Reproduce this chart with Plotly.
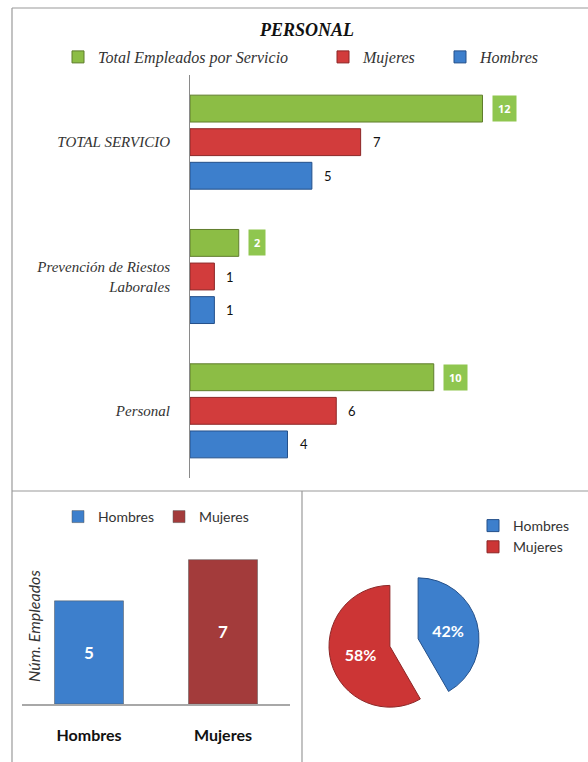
import plotly.graph_objects as go

W, H = 588, 762

# ---------------- data ----------------
categories = ["TOTAL SERVICIO", "Prevención de Riestos<br>Laborales", "Personal"]
total_empleados = [12, 2, 10]
mujeres = [7, 1, 6]
hombres = [5, 1, 4]

genero = ["Hombres", "Mujeres"]
genero_valores = [5, 7]


def fx(px):
    return px / W


def fy(py):
    return 1 - py / H


SERIF = "Liberation Serif"
SANS = "Lato"

GREEN, GREEN_D, GREEN_BOX = "#8cbd45", "#5f7d2c", "#8fc64f"
RED, RED_D = "#d23c3c", "#8c2626"
BLUE, BLUE_D = "#3d7fcc", "#24508a"
DRED = "#a33b3b"

TOP_X0, TOP_X1 = 190, 580
TOP_Y0, TOP_Y1 = 75, 478
BAR_GAP, GROUP_GAP = 0.25, 0.2

series = [
    ("Total Empleados por Servicio", total_empleados, GREEN, GREEN_D, "legend", 78),
    ("Mujeres", mujeres, RED, RED_D, "legend4", 343),
    ("Hombres", hombres, BLUE, BLUE_D, "legend5", 460),
]

fig = go.Figure()
annotations = []
slot_px = (TOP_Y1 - TOP_Y0) / len(categories) * (1 - BAR_GAP) / len(series)

for i, (name, vals, color, line, leg, _) in enumerate(series):
    fig.add_trace(go.Bar(
        y=categories, x=vals, orientation="h", name=name,
        marker=dict(color=color, line=dict(color=line, width=1)),
        xaxis="x", yaxis="y", legend=leg, hoverinfo="skip",
    ))
    yshift = (1 - i) * slot_px
    for cat, v in zip(categories, vals):
        if i == 0:
            annotations.append(dict(
                x=v, y=cat, xref="x", yref="y", text=f"<b>{v}</b>",
                showarrow=False, xanchor="left", xshift=9, yshift=yshift,
                bgcolor=GREEN_BOX, borderpad=5,
                font=dict(family="Open Sans", size=11, color="white"),
            ))
        else:
            annotations.append(dict(
                x=v, y=cat, xref="x", yref="y", text=str(v),
                showarrow=False, xanchor="left", xshift=10, yshift=yshift,
                font=dict(family=SANS, size=13, color="#111"),
            ))

# bottom-left bar chart
for g, v, color in zip(genero, genero_valores, [BLUE, DRED]):
    fig.add_trace(go.Bar(
        x=[g], y=[v], name=g, xaxis="x2", yaxis="y2", legend="legend2",
        marker=dict(color=color, line=dict(color="#555", width=0.5)),
        text=[str(v)], textposition="inside", insidetextanchor="middle",
        textfont=dict(family=SANS, size=17, color="white", weight="bold"),
        offsetgroup="g", width=0.515, hoverinfo="skip",
    ))

# pie
fig.add_trace(go.Pie(
    labels=genero, values=genero_valores, sort=False, direction="clockwise",
    rotation=0, pull=[0.24, 0.24],
    domain=dict(x=[fx(328.5), fx(479.5)], y=[fy(718), fy(567)]),
    marker=dict(colors=[BLUE, "#cc3535"], line=dict(color=[BLUE_D, RED_D], width=1)),
    texttemplate="%{percent:.0%}", textposition="inside",
    insidetextorientation="horizontal",
    insidetextfont=dict(family=SANS, size=16, color="white", weight="bold"),
    legend="legend3", hoverinfo="skip",
))

annotations.append(dict(
    x=fx(33), y=fy(626), xref="paper", yref="paper", text="Núm. Empleados",
    textangle=-90, showarrow=False, xanchor="center", yanchor="middle",
    font=dict(family=SANS, size=16, color="#333", style="italic"),
))

line_col = "#9a9a9a"
shapes = [
    dict(type="line", xref="paper", yref="paper", x0=fx(12), x1=1, y0=fy(8), y1=fy(8),
         line=dict(color=line_col, width=1.2)),
    dict(type="line", xref="paper", yref="paper", x0=fx(12), x1=fx(12), y0=fy(8), y1=0,
         line=dict(color=line_col, width=1.2)),
    dict(type="line", xref="paper", yref="paper", x0=fx(12), x1=1, y0=fy(491), y1=fy(491),
         line=dict(color=line_col, width=1.2)),
    dict(type="line", xref="paper", yref="paper", x0=fx(302), x1=fx(302), y0=fy(491), y1=0,
         line=dict(color=line_col, width=1.2)),
]

legend_font = dict(family=SERIF, size=16, color="#333", style="italic")
leg_common = dict(xanchor="left", yanchor="middle", bgcolor="rgba(0,0,0,0)",
                  orientation="h", font=legend_font, itemclick=False)

layout_legends = {}
for name, vals, color, line, leg, sx in series:
    layout_legends[leg] = dict(leg_common, x=fx(sx - 20), y=fy(57))

fig.update_layout(
    width=W, height=H, margin=dict(l=0, r=0, t=0, b=0),
    paper_bgcolor="white", plot_bgcolor="white",
    barmode="group", bargap=BAR_GAP, bargroupgap=GROUP_GAP,
    showlegend=True,
    title=dict(text="<b><i>PERSONAL</i></b>", x=fx(307), xanchor="center",
               y=fy(30), yanchor="middle", xref="paper", yref="paper",
               font=dict(family=SERIF, size=18, color="#111")),
    xaxis=dict(domain=[fx(TOP_X0), fx(TOP_X1)], range=[0, 16], visible=False,
               anchor="y"),
    yaxis=dict(domain=[fy(TOP_Y1), fy(TOP_Y0)], anchor="x", autorange="reversed",
               categoryorder="array", categoryarray=categories,
               showline=True, linecolor="#8a8a8a", linewidth=1, showgrid=False,
               ticks="outside", ticklen=16, tickcolor="rgba(0,0,0,0)",
               tickfont=dict(family=SERIF, size=15, color="#333", style="italic")),
    xaxis2=dict(domain=[fx(22), fx(290)], anchor="y2", showline=True,
                linecolor="#a8a8a8", linewidth=1.5, showgrid=False,
                ticks="outside", ticklen=16, tickcolor="rgba(0,0,0,0)",
                tickfont=dict(family=SANS, size=16, color="#111", weight="bold")),
    yaxis2=dict(domain=[fy(704), fy(539)], anchor="x2", range=[0, 8], visible=False),
    legend2=dict(xanchor="left", yanchor="middle", x=fx(58), y=fy(517),
                 orientation="h", bgcolor="rgba(0,0,0,0)",
                 font=dict(family=SANS, size=14, color="#333")),
    legend3=dict(xanchor="left", yanchor="top", x=fx(473), y=fy(510),
                 orientation="v", bgcolor="rgba(0,0,0,0)",
                 font=dict(family=SANS, size=14, color="#333")),
    annotations=annotations,
    shapes=shapes,
    **layout_legends,
)

fig.write_html("out.html")
